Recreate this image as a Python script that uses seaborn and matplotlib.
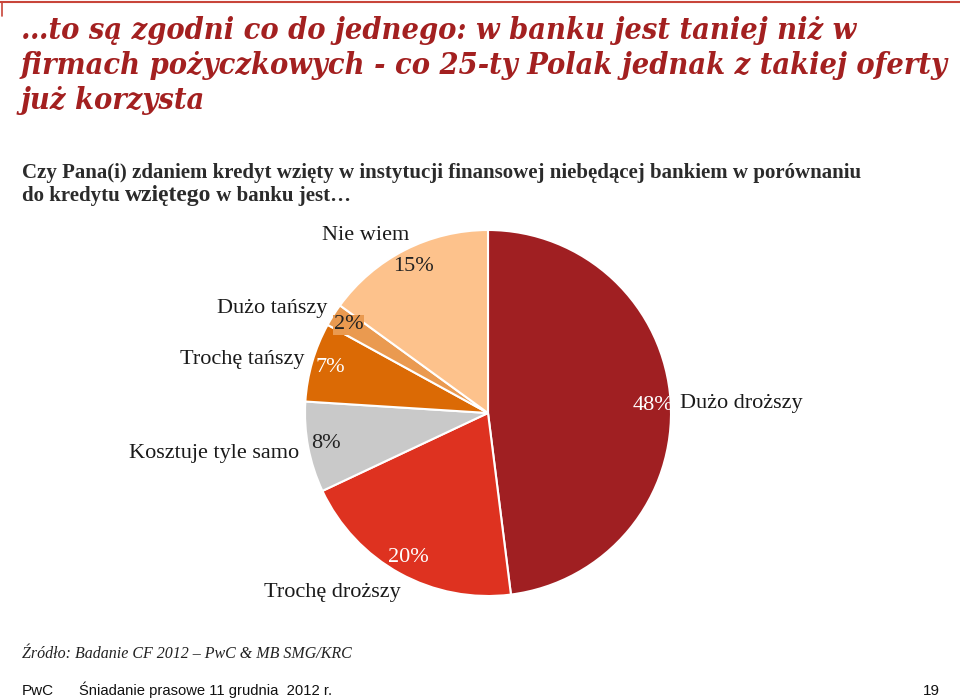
import numpy as np
import matplotlib
matplotlib.use("Agg")
import matplotlib.pyplot as plt
import seaborn as sns
from matplotlib.lines import Line2D

categories = ["Dużo droższy", "Trochę droższy", "Kosztuje tyle samo",
              "Trochę tańszy", "Dużo tańszy", "Nie wiem"]
values = [48, 20, 8, 7, 2, 15]
colors = ["#A01F22", "#DE3220", "#C9C9C9", "#DB6A05", "#EA9A50", "#FDC28C"]
pct_colors = ["white", "white", "#222222", "white", "#222222", "#222222"]

title_lines = ["…to są zgodni co do jednego: w banku jest taniej niż w",
               "firmach pożyczkowych - co 25-ty Polak jednak z takiej oferty",
               "już korzysta"]
subtitle_line1 = "Czy Pana(i) zdaniem kredyt wzięty w instytucji finansowej niebędącej bankiem w porównaniu"
subtitle_line2_parts = ["do kredytu ", "wziętego", " w banku jest…"]
source = "Źródło: Badanie CF 2012 – PwC & MB SMG/KRC"
footer_left = "PwC"
footer_mid = "Śniadanie prasowe 11 grudnia  2012 r."
footer_page = "19"

sns.set_theme(style="white")
plt.rcParams['font.family'] = ['Liberation Serif', 'DejaVu Serif']

W, H = 960, 700
fig = plt.figure(figsize=(W / 100, H / 100), dpi=100)
fig.patch.set_facecolor("white")
renderer = fig.canvas.get_renderer()

# top red rule
fig.add_artist(Line2D([0, 1], [1 - 2 / H, 1 - 2 / H], color="#C8453A", lw=1.5))
fig.add_artist(Line2D([2 / W, 2 / W], [1 - 2 / H, 1 - 16 / H], color="#C8453A", lw=1.2))

# title: DejaVu Serif condensed, fitted so the first line spans ~833 px
title_kw = dict(fontweight="bold", fontstyle="italic", color="#A32020",
                family=["DejaVu Serif", "Liberation Serif"], fontstretch="condensed",
                ha="left", va="baseline")
probe = fig.text(0, 0, title_lines[0], fontsize=20, **title_kw)
pw = probe.get_window_extent(renderer=renderer).width
probe.remove()
tfs = 20 * 833 / pw
for i, line in enumerate(title_lines):
    fig.text(21 / W, 1 - (39 + 35 * i) / H, line, fontsize=tfs, **title_kw)

fig.text(22 / W, 1 - 178 / H, subtitle_line1, fontsize=15, fontweight="bold",
         color="#2B2B2B", ha="left", va="baseline")
x = 22 / W
for part, fs in zip(subtitle_line2_parts, [15, 17, 15]):
    t = fig.text(x, 1 - 201 / H, part, fontsize=fs, fontweight="bold",
                 color="#2B2B2B", ha="left", va="baseline")
    x += t.get_window_extent(renderer=renderer).width / W

# pie
cx, cy, r = 488, 413, 183
ax = fig.add_axes([(cx - r) / W, (H - cy - r) / H, 2 * r / W, 2 * r / H])
wedges, texts, autotexts = ax.pie(
    values, colors=colors, startangle=90, counterclock=False,
    autopct="%d%%", pctdistance=0.9,
    wedgeprops=dict(edgecolor="white", linewidth=1.5),
    textprops=dict(fontsize=16),
)
ax.set_xlim(-1, 1)
ax.set_ylim(-1, 1)
ax.set_aspect("equal")
ax.axis("off")

for t, c in zip(autotexts, pct_colors):
    t.set_color(c)
    t.set_fontsize(16)
autotexts[4].set_bbox(dict(facecolor="#EA9A50", edgecolor="none", pad=0.5))
autotexts[0].set_position((0.90, 0.04))

# category labels placed around the pie (axis units, radius = 1)
label_pos = [(1.05, 0.05, "left"), (-0.85, -0.98, "center"), (-1.03, -0.22, "right"),
             (-1.0, 0.29, "right"), (-0.88, 0.57, "right"), (-0.67, 0.97, "center")]
for cat, (lx, ly, ha) in zip(categories, label_pos):
    ax.text(lx, ly, cat, fontsize=16, color="#1A1A1A", ha=ha, va="center", clip_on=False)

# source and footer
fig.text(22 / W, 1 - 658 / H, source, fontsize=11.5, fontstyle="italic",
         color="#222222", ha="left", va="baseline")
fig.text(22 / W, 1 - 695 / H, footer_left, fontsize=11, family="Liberation Sans",
         color="#111111", ha="left", va="baseline")
fig.text(79 / W, 1 - 695 / H, footer_mid, fontsize=10.6, family="Liberation Sans",
         color="#111111", ha="left", va="baseline")
fig.text(940 / W, 1 - 695 / H, footer_page, fontsize=11, family="Liberation Sans",
         color="#111111", ha="right", va="baseline")

fig.savefig("out.png", dpi=100)
